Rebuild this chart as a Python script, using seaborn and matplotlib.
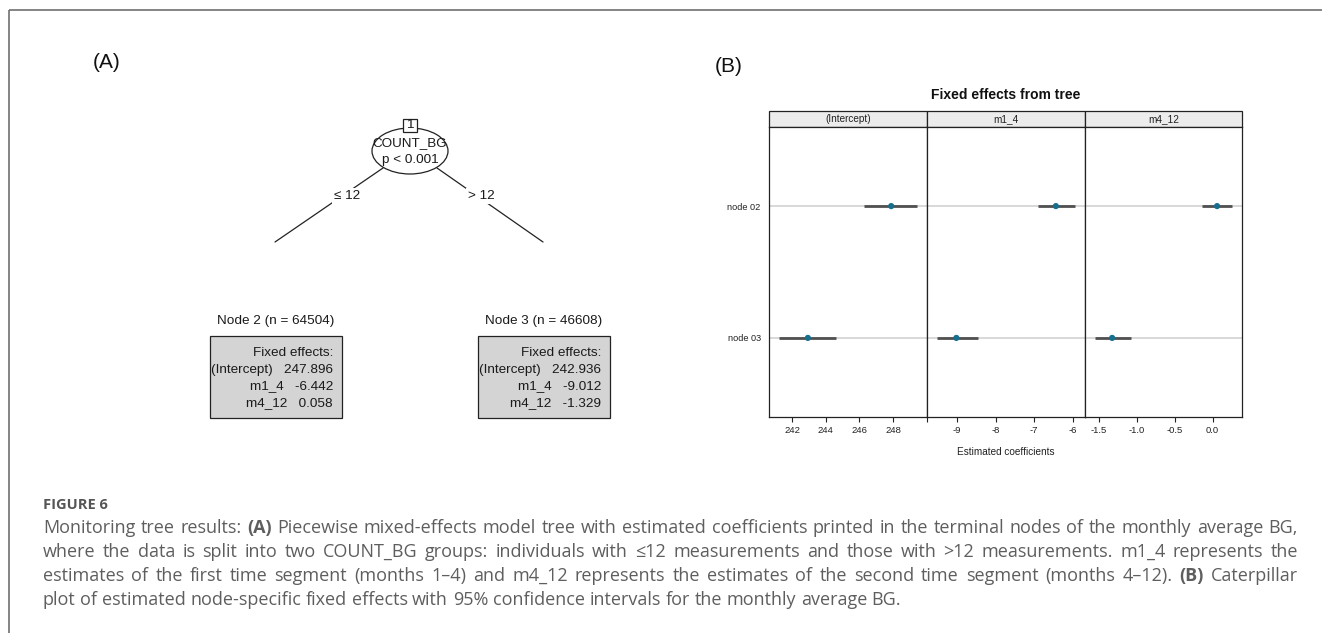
import matplotlib
matplotlib.use("Agg")
import matplotlib.pyplot as plt
import seaborn as sns
import pandas as pd
from matplotlib.patches import Ellipse, Rectangle

# 数据：终端节点的固定效应估计值与 95% 置信区间
terms = ["(Intercept)", "m1_4", "m4_12"]
nodes = ["node 02", "node 03"]
node_ids = [2, 3]
node_n = [64504, 46608]

est_intercept = [247.896, 242.936]
est_m1_4 = [-6.442, -9.012]
est_m4_12 = [0.058, -1.329]

lo_intercept = [246.3, 241.2]
hi_intercept = [249.45, 244.6]
lo_m1_4 = [-6.91, -9.52]
hi_m1_4 = [-5.94, -8.46]
lo_m4_12 = [-0.14, -1.56]
hi_m4_12 = [0.26, -1.08]

split_var = "COUNT_BG"
split_p = "p < 0.001"
split_labels = ["≤ 12", "> 12"]

ticks_intercept = [242, 244, 246, 248, 250]
ticks_m1_4 = [-9, -8, -7, -6]
ticks_m4_12 = [-1.5, -1.0, -0.5, 0.0]
ticklabels_intercept = ["242", "244", "246", "248", ""]
ticklabels_m1_4 = ["-9", "-8", "-7", "-6"]
ticklabels_m4_12 = ["-1.5", "-1.0", "-0.5", "0.0"]

caption_title = "FIGURE 6"
caption_lines = [
    "Monitoring tree results: *(A)* Piecewise mixed-effects model tree with estimated coefficients printed in the terminal nodes of the monthly average BG,",
    "where the data is split into two COUNT_BG groups: individuals with ≤12 measurements and those with >12 measurements. m1_4 represents the",
    "estimates of the first time segment (months 1–4) and m4_12 represents the estimates of the second time segment (months 4–12). *(B)* Caterpillar",
    "plot of estimated node-specific fixed effects with 95% confidence intervals for the monthly average BG.",
]

rows = []
for term, est, lo, hi in [("(Intercept)", est_intercept, lo_intercept, hi_intercept),
                          ("m1_4", est_m1_4, lo_m1_4, hi_m1_4),
                          ("m4_12", est_m4_12, lo_m4_12, hi_m4_12)]:
    for nd, e, l, h in zip(nodes, est, lo, hi):
        rows.append({"term": term, "node": nd, "estimate": e, "lower": l, "upper": h})
df = pd.DataFrame(rows)

ticks = {"(Intercept)": (ticks_intercept, ticklabels_intercept),
         "m1_4": (ticks_m1_4, ticklabels_m1_4),
         "m4_12": (ticks_m4_12, ticklabels_m4_12)}

sns.set_style("white")
plt.rcParams["font.family"] = ["Liberation Sans", "DejaVu Sans"]

W, H = 1322, 633
fig = plt.figure(figsize=(W / 100, H / 100), dpi=100)

# 背景坐标轴，用像素坐标画树和文字
bg = fig.add_axes([0, 0, 1, 1])
bg.set_xlim(0, W)
bg.set_ylim(H, 0)
bg.axis("off")

# 外框
bg.plot([9, W], [10, 10], color="#707070", lw=1.2, solid_capstyle="butt")
bg.plot([9, 9], [10, H], color="#707070", lw=1.2, solid_capstyle="butt")

bg.text(107, 63, "(A)", fontsize=15, ha="center", va="center", color="#111111")
bg.text(729, 67, "(B)", fontsize=15, ha="center", va="center", color="#111111")

# ---------- (A) 树 ----------
txt_kw = dict(fontsize=9.7, color="#1a1a1a", ha="center", va="center")
bg.add_patch(Ellipse((410, 151), 76, 46, fc="white", ec="#222222", lw=0.9, zorder=2))
bg.add_patch(Rectangle((403, 118.5), 14, 13, fc="white", ec="#222222", lw=0.9, zorder=3))
bg.text(410, 125, "1", zorder=4, **txt_kw)
bg.text(410, 143, split_var, zorder=4, **txt_kw)
bg.text(410, 160, split_p, zorder=4, **txt_kw)

edge_pts = [((383, 168), (275, 242), (347, 196)), ((437, 168), (543, 242), (481, 196))]
for (p0, p1, lab), lbl in zip(edge_pts, split_labels):
    bg.plot([p0[0], p1[0]], [p0[1], p1[1]], color="#222222", lw=0.9, zorder=1)
    bg.text(lab[0], lab[1], lbl, zorder=4,
            bbox=dict(fc="white", ec="none", pad=1.5), **txt_kw)

box_left = [210, 478]
coef_by_node = list(zip(est_intercept, est_m1_4, est_m4_12))
for i in range(len(nodes)):
    x0 = box_left[i]
    bg.text(x0 + 66, 321, f"Node {node_ids[i]} (n = {node_n[i]})", **txt_kw)
    bg.add_patch(Rectangle((x0, 336), 132, 82, fc="#d4d4d4", ec="#222222", lw=0.9))
    lines = ["Fixed effects:"] + [f"{t}   {v:.3f}" for t, v in zip(terms, coef_by_node[i])]
    for j, s in enumerate(lines):
        bg.text(x0 + 123, 353 + j * 16.7, s, fontsize=9.7, color="#1a1a1a",
                ha="right", va="center")

# ---------- (B) 毛毛虫图 ----------
edges = [769, 927, 1085, 1242]
top, bottom = 127, 417
pt_color = "#176f8e"
for i, term in enumerate(terms):
    ax = fig.add_axes([edges[i] / W, 1 - bottom / H, (edges[i + 1] - edges[i]) / W,
                       (bottom - top) / H])
    sub = df[df["term"] == term]
    sns.scatterplot(data=sub, x="estimate", y="node", ax=ax, color=pt_color, s=20,
                    edgecolor="none", zorder=4)
    ax.hlines(sub["node"], sub["lower"], sub["upper"], color="#505050", lw=2.0, zorder=3)
    span = sub["upper"].max() - sub["lower"].min()
    ax.set_xlim(sub["lower"].min() - 0.07 * span, sub["upper"].max() + 0.07 * span)
    ax.set_ylim(1.6, -0.6)
    tk, tl = ticks[term]
    ax.set_xticks(tk)
    ax.set_xticklabels(tl)
    ax.set_yticks([0, 1])
    ax.yaxis.grid(True, color="#d6d6d6", lw=1.3)
    ax.xaxis.grid(False)
    ax.set_axisbelow(True)
    ax.set_xlabel("")
    ax.set_ylabel("")
    ax.tick_params(axis="x", direction="out", length=3.5, width=0.8, labelsize=6.8,
                   pad=3, colors="#222222", bottom=True)
    ax.tick_params(axis="y", length=0, labelsize=6.6, pad=6, colors="#222222",
                   labelleft=(i == 0))
    for sp in ax.spines.values():
        sp.set_color("#222222")
        sp.set_linewidth(0.9)
    # 分面标题条
    bg.add_patch(Rectangle((edges[i], 111), edges[i + 1] - edges[i], 16,
                           fc="#ececec", ec="#222222", lw=0.9))
    bg.text((edges[i] + edges[i + 1]) / 2, 119.5, term, fontsize=7.2, ha="center",
            va="center", color="#222222")

bg.text((edges[0] + edges[-1]) / 2, 95, "Fixed effects from tree", fontsize=10,
        weight="bold", ha="center", va="center", color="#111111")
bg.text((edges[0] + edges[-1]) / 2, 452, "Estimated coefficients", fontsize=7.2,
        ha="center", va="center", color="#222222")

# ---------- 图注 ----------
cap_family = ["Open Sans", "DejaVu Sans"]
cap_size = 13
cap_color = "#5e5e5e"
renderer = fig.canvas.get_renderer()

bg.text(43, 505, caption_title, fontsize=10.5, weight="bold", family=cap_family,
        color="#555555", ha="left", va="center")


def draw_caption_line(line, y, justify, x0=43, x1=1298):
    words = []
    for w in line.split(" "):
        bold = w.startswith("*") and w.endswith("*")
        words.append((w.strip("*"), bold))
    arts = []
    widths = []
    for w, bold in words:
        t = bg.text(0, y, w, fontsize=cap_size, family=cap_family, color=cap_color,
                    weight="bold" if bold else "normal", ha="left", va="center")
        widths.append(t.get_window_extent(renderer=renderer).width)
        arts.append(t)
    sp = bg.text(0, y, "a a", fontsize=cap_size, family=cap_family)
    sa = bg.text(0, y, "aa", fontsize=cap_size, family=cap_family)
    space = (sp.get_window_extent(renderer=renderer).width
             - sa.get_window_extent(renderer=renderer).width)
    sp.remove()
    sa.remove()
    gap = space
    if justify:
        gap = max((x1 - x0 - sum(widths)) / (len(words) - 1), 0.6 * space)
    x = x0
    for t, w in zip(arts, widths):
        t.set_x(x)
        x += w + gap


cap_y = [528, 552, 576, 600]
for k, line in enumerate(caption_lines):
    draw_caption_line(line, cap_y[k], justify=(k < len(caption_lines) - 1))

fig.savefig("out.png", dpi=100)
